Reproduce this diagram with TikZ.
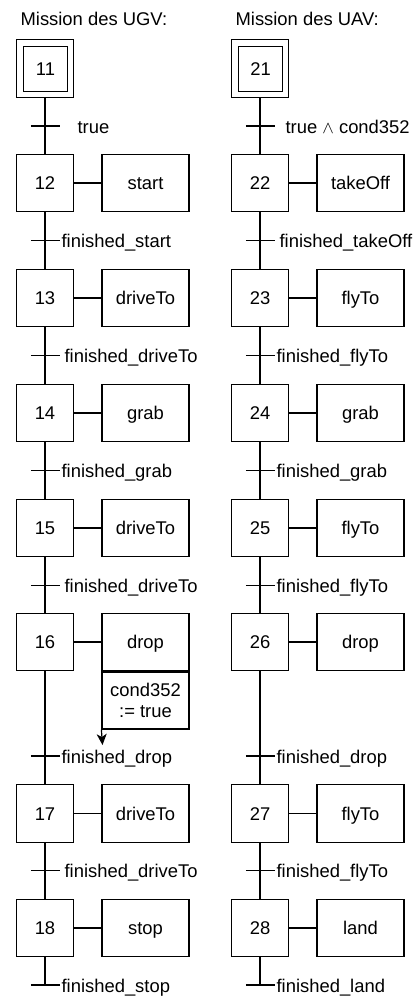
\documentclass[tikz,border=0pt]{standalone}
\usepackage{fontspec}
\setmainfont{Liberation Sans}
\usetikzlibrary{arrows.meta}
\begin{document}
\begin{tikzpicture}[x=1pt,y=-1pt, line width=1.2pt,
  every node/.style={font=\fontsize{18.4}{21}\selectfont},
  stepbox/.style={draw, minimum width=57.5, minimum height=57.5, inner sep=0, text height=13.2pt, text depth=0pt},
  initbox/.style={draw, minimum width=44.5, minimum height=44.5, inner sep=0, text height=13.2pt, text depth=0pt},
  actbox/.style={draw, minimum width=87, minimum height=57.5, inner sep=0, text height=13.2pt, text depth=0pt},
  condbox/.style={draw, minimum width=87, minimum height=57, inner sep=0, align=center},
  trans/.style={minimum width=28, minimum height=0, inner sep=0},
  lbl/.style={anchor=base west, inner sep=0}]
\useasboundingbox (0,0) rectangle (417,996);

% titles
\node[lbl] (titleA) at (20,25) {Mission des UGV:};
\node[lbl] (titleB) at (235,25) {Mission des UAV:};

% ---------- left column (UGV) ----------
\node[stepbox] (s11) at (45,68.5) {};
\node[initbox] (s11i) at (45.5,69) {11};
\node[stepbox] (s12) at (45,183) {12};
\node[stepbox] (s13) at (45,298) {13};
\node[stepbox] (s14) at (45,413) {14};
\node[stepbox] (s15) at (45,528) {15};
\node[stepbox] (s16) at (45,642) {16};
\node[stepbox] (s17) at (45,813.5) {17};
\node[stepbox] (s18) at (45,928) {18};

\node[actbox] (a12) at (145.5,183) {start};
\node[actbox] (a13) at (145.5,298) {driveTo};
\node[actbox] (a14) at (145.5,413) {grab};
\node[actbox] (a15) at (145.5,528) {driveTo};
\node[actbox] (a16) at (145.5,642) {drop};
\node[condbox, anchor=north] (c16) at (a16.south) {cond352\\:= true};
\node[actbox] (a17) at (145.5,813.5) {driveTo};
\node[actbox] (a18) at (145.5,928) {stop};

\node[trans] (t11) at (45.5,126) {};
\node[trans] (t12) at (45.5,240.5) {};
\node[trans] (t13) at (45.5,355.5) {};
\node[trans] (t14) at (45.5,470.5) {};
\node[trans] (t15) at (45.5,585.5) {};
\node[trans] (t16) at (45.5,756) {};
\node[trans] (t17) at (45.5,870.5) {};
\node[trans] (t18) at (45.5,985) {};

\draw (s11.south) -- (s12.north);
\draw (s12.south) -- (s13.north);
\draw (s13.south) -- (s14.north);
\draw (s14.south) -- (s15.north);
\draw (s15.south) -- (s16.north);
\draw (s16.south) -- (s17.north);
\draw (s17.south) -- (s18.north);
\draw (s18.south) -- (s18.south |- t18.center);

\foreach \n in {11,...,18} { \draw (t\n.west) -- (t\n.east); }
\foreach \n in {12,...,18} { \draw (s\n.east) -- (a\n.west); }

\coordinate (arrEnd) at (102.5,745);
\draw[-{Stealth[length=11pt,width=10pt,inset=3pt]}] (c16.south west) -- (arrEnd);

\node[lbl] (l11) at (77,133) {true};
\node[lbl] (l12) at (61,247.5) {finished\_start};
\node[lbl] (l13) at (64,362.5) {finished\_driveTo};
\node[lbl] (l14) at (61,477.5) {finished\_grab};
\node[lbl] (l15) at (64,592.5) {finished\_driveTo};
\node[lbl] (l16) at (61,763) {finished\_drop};
\node[lbl] (l17) at (64,877.5) {finished\_driveTo};
\node[lbl] (l18) at (61,992) {finished\_stop};

% ---------- right column (UAV) ----------
\node[stepbox] (s21) at (260,68.5) {};
\node[initbox] (s21i) at (260.5,69) {21};
\node[stepbox] (s22) at (260,183) {22};
\node[stepbox] (s23) at (260,298) {23};
\node[stepbox] (s24) at (260,413) {24};
\node[stepbox] (s25) at (260,528) {25};
\node[stepbox] (s26) at (260,642) {26};
\node[stepbox] (s27) at (260,813.5) {27};
\node[stepbox] (s28) at (260,928) {28};

\node[actbox] (a22) at (360.5,183) {takeOff};
\node[actbox] (a23) at (360.5,298) {flyTo};
\node[actbox] (a24) at (360.5,413) {grab};
\node[actbox] (a25) at (360.5,528) {flyTo};
\node[actbox] (a26) at (360.5,642) {drop};
\node[actbox] (a27) at (360.5,813.5) {flyTo};
\node[actbox] (a28) at (360.5,928) {land};

\node[trans] (t21) at (260.5,126) {};
\node[trans] (t22) at (260.5,240.5) {};
\node[trans] (t23) at (260.5,355.5) {};
\node[trans] (t24) at (260.5,470.5) {};
\node[trans] (t25) at (260.5,585.5) {};
\node[trans] (t26) at (260.5,756) {};
\node[trans] (t27) at (260.5,870.5) {};
\node[trans] (t28) at (260.5,985) {};

\draw (s21.south) -- (s22.north);
\draw (s22.south) -- (s23.north);
\draw (s23.south) -- (s24.north);
\draw (s24.south) -- (s25.north);
\draw (s25.south) -- (s26.north);
\draw (s26.south) -- (s27.north);
\draw (s27.south) -- (s28.north);
\draw (s28.south) -- (s28.south |- t28.center);

\foreach \n in {21,...,28} { \draw (t\n.west) -- (t\n.east); }
\foreach \n in {22,...,28} { \draw (s\n.east) -- (a\n.west); }

\node[lbl] (l21) at (285,133) {true $\wedge$ cond352};
\node[lbl] (l22) at (279,247.5) {finished\_takeOff};
\node[lbl] (l23) at (276,362.5) {finished\_flyTo};
\node[lbl] (l24) at (276,477.5) {finished\_grab};
\node[lbl] (l25) at (276,592.5) {finished\_flyTo};
\node[lbl] (l26) at (276,763) {finished\_drop};
\node[lbl] (l27) at (276,877.5) {finished\_flyTo};
\node[lbl] (l28) at (276,992) {finished\_land};
\end{tikzpicture}
\end{document}
